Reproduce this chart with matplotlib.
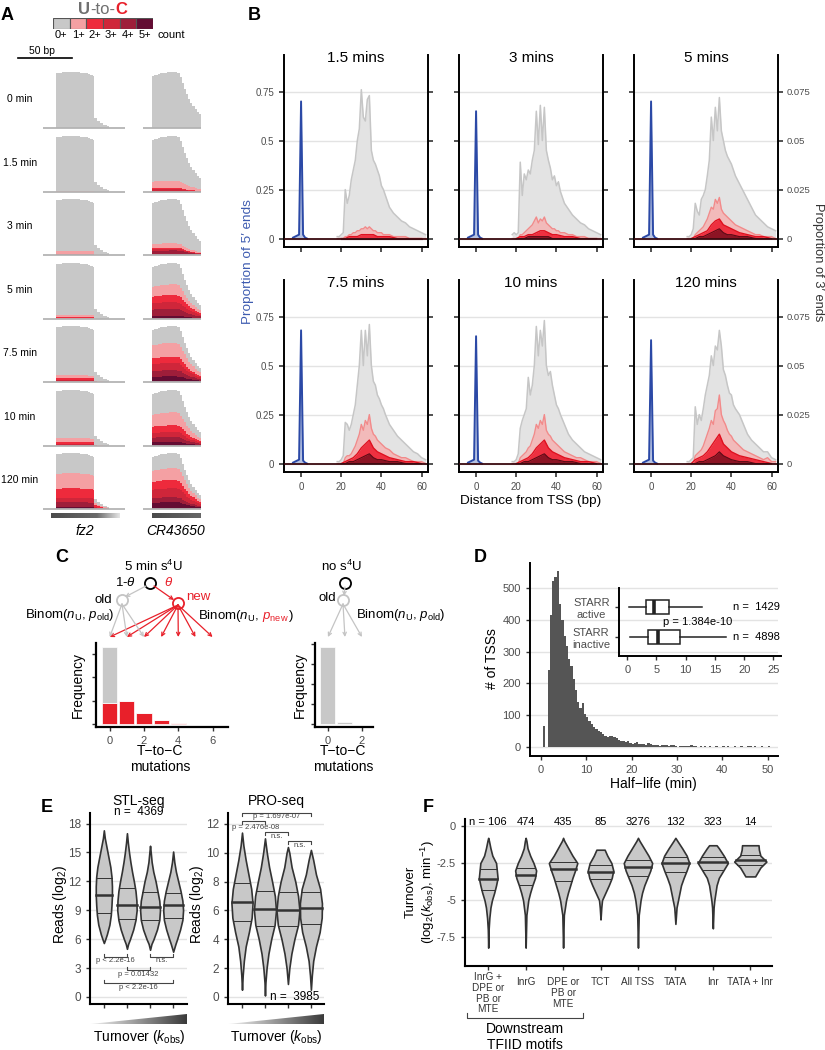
import numpy as np
import matplotlib
matplotlib.use('Agg')
import matplotlib.pyplot as plt
from matplotlib.colors import LinearSegmentedColormap
from matplotlib.patches import Polygon

plt.rcParams['font.family'] = ['Liberation Sans', 'DejaVu Sans']
plt.rcParams['mathtext.fontset'] = 'custom'
plt.rcParams['mathtext.rm'] = 'Liberation Sans'
plt.rcParams['mathtext.it'] = 'Liberation Sans:italic'
plt.rcParams['mathtext.bf'] = 'Liberation Sans:bold'

# ---------------- data ----------------
# A: U-to-C coverage tracks
uc_labels = ['0+', '1+', '2+', '3+', '4+', '5+']
uc_colors = ['#c8c8c8', '#f4a0a3', '#ee2a3c', '#cf263a', '#9e1e3a', '#640c33']
a_times = ['0 min', '1.5 min', '3 min', '5 min', '7.5 min', '10 min', '120 min']
fz2_pos = [12, 14, 16, 18, 20, 22, 24, 26, 28, 30, 32, 34, 36, 38, 40, 42, 44, 46, 47.5, 50, 53, 56, 59, 61]
fz2_cov = [0.97, 0.98, 0.98, 0.99, 1.0, 1.0, 1.0, 1.0, 1.0, 0.99, 0.99, 0.98, 0.98, 0.97, 0.97, 0.96,
           0.95, 0.92, 0.18, 0.12, 0.09, 0.06, 0.03, 0.0]
fz2_layers = [[0, 0, 0, 0, 0], [0.015, 0, 0, 0, 0], [0.07, 0.015, 0, 0, 0], [0.07, 0.035, 0, 0, 0],
              [0.12, 0.07, 0.03, 0, 0], [0.14, 0.07, 0.03, 0, 0], [0.64, 0.37, 0.2, 0.12, 0.04]]
cr_pos = [8, 10, 12, 14, 16, 18, 20, 22, 24, 26, 28, 30, 32, 34, 36, 38, 40, 42, 44, 46, 48, 50, 52, 54]
cr_cov = [0.93, 0.94, 0.95, 0.96, 0.97, 0.98, 0.98, 0.99, 1.0, 1.0, 1.0, 1.0, 0.97, 0.9, 0.8, 0.7,
          0.6, 0.52, 0.45, 0.4, 0.33, 0.28, 0.25, 0.22]
cr_layers = [[0, 0, 0, 0, 0], [0.2, 0.07, 0.05, 0, 0], [0.21, 0.13, 0.11, 0.08, 0],
             [0.62, 0.43, 0.3, 0.18, 0.06], [0.7, 0.45, 0.34, 0.21, 0.1],
             [0.6, 0.37, 0.25, 0.16, 0.07], [0.73, 0.52, 0.37, 0.21, 0.12]]

# B: 5' (blue) and 3' end profiles
b_titles = ['1.5 mins', '3 mins', '5 mins', '7.5 mins', '10 mins', '120 mins']
b5_x = [-4, -3, -2, -1, 0, 1, 2, 3]
b5_vals = [[.005, .01, .015, .02, .70, .02, .005, 0],
           [.005, .01, .015, .02, .65, .02, .005, 0],
           [.005, .01, .015, .02, .70, .02, .005, 0],
           [.005, .01, .015, .02, .68, .015, .005, 0],
           [.005, .01, .015, .02, .65, .015, .005, 0],
           [.005, .01, .015, .02, .63, .015, .005, 0]]
B_x = [18, 19, 20, 21, 22, 23, 24, 25, 26, 27, 28, 29, 30, 31, 32, 33, 34, 35, 36, 37, 38, 39, 40, 41, 42,
       44, 46, 48, 50, 52, 54, 56, 58, 60, 62]
g15 = [.001, .001, .002, .003, .025, .018, .022, .030, .035, .040, .050, .056, .076, .062, .060, .071, .073,
       .045, .040, .038, .035, .032, .027, .025, .022, .016, .013, .011, .009, .008, .006, .005, .004, .003, .002]
g3 = [.002, .003, .002, .003, .039, .022, .033, .030, .035, .033, .040, .045, .065, .048, .068, .050, .067,
      .045, .040, .036, .030, .032, .027, .029, .024, .018, .015, .012, .010, .008, .007, .005, .004, .003, .002]
g5 = [.001, .001, .002, .005, .018, .014, .012, .020, .022, .025, .032, .040, .062, .050, .067, .055, .072,
      .055, .050, .045, .042, .040, .038, .035, .032, .028, .024, .020, .016, .012, .010, .008, .006, .005, .004]
g75 = [.001, .001, .002, .004, .021, .020, .017, .020, .025, .030, .040, .050, .068, .050, .068, .055, .071,
       .050, .042, .040, .035, .033, .030, .028, .025, .020, .017, .014, .012, .010, .008, .006, .005, .003, .002]
g10 = [.001, .001, .002, .005, .018, .022, .025, .028, .044, .035, .040, .050, .070, .055, .068, .060, .073,
       .050, .045, .047, .040, .035, .030, .028, .025, .020, .015, .012, .010, .008, .006, .005, .004, .003, .002]
g120 = [.001, .001, .002, .003, .029, .020, .025, .022, .028, .035, .040, .045, .055, .050, .060, .058, .068,
        .060, .048, .045, .040, .036, .035, .030, .028, .025, .020, .015, .012, .010, .008, .006, .006, .003, .002]
p15 = [0, 0, 0, 0, .001, .001, .002, .002, .003, .003, .004, .004, .005, .005, .006, .005, .006,
       .005, .004, .004, .003, .003, .003, .002, .002, .002, .001, .001, .001, .001, 0, 0, 0, 0, 0]
p3 = [0, 0, 0, 0, .002, .002, .003, .004, .005, .006, .007, .009, .011, .008, .010, .009, .011,
      .008, .007, .006, .005, .005, .004, .004, .003, .003, .002, .002, .001, .001, .001, 0, 0, 0, 0]
p5 = [0, 0, 0, 0, .002, .003, .004, .005, .006, .008, .010, .013, .016, .015, .020, .018, .021,
      .015, .013, .012, .011, .010, .009, .008, .007, .006, .005, .004, .003, .002, .002, .001, .001, .001, 0]
p75 = [0, 0, 0, 0, .003, .004, .004, .005, .007, .009, .012, .015, .020, .017, .022, .020, .025,
       .018, .015, .014, .012, .011, .010, .009, .008, .007, .005, .004, .003, .003, .002, .001, .001, .001, 0]
p10 = [0, 0, 0, 0, .003, .004, .005, .006, .008, .009, .012, .015, .020, .018, .022, .020, .025,
       .017, .015, .014, .012, .011, .010, .009, .008, .006, .005, .004, .003, .003, .002, .001, .001, .001, 0]
p120 = [0, 0, 0, 0, .004, .005, .006, .007, .009, .012, .015, .018, .022, .020, .027, .028, .035,
        .025, .022, .020, .017, .015, .014, .012, .011, .009, .007, .006, .005, .004, .003, .002, .003, .001, .001]
L_x = [20, 22, 24, 26, 28, 30, 32, 34, 36, 38, 40, 44, 48, 52, 56, 60]
r15 = [0, 0, .001, .001, .001, .002, .002, .002, .002, .001, .001, .001, 0, 0, 0, 0]
r3 = [0, .001, .001, .002, .002, .003, .004, .004, .003, .002, .002, .001, .001, 0, 0, 0]
r5 = [0, .001, .002, .003, .004, .007, .009, .010, .007, .006, .005, .003, .002, .001, .001, 0]
r75 = [0, .001, .002, .003, .005, .008, .010, .012, .008, .006, .005, .003, .002, .001, .001, 0]
r10 = [0, .001, .002, .003, .005, .008, .010, .012, .008, .006, .005, .003, .002, .001, .001, 0]
r120 = [0, .002, .003, .004, .006, .009, .012, .015, .010, .008, .006, .004, .003, .002, .001, 0]
k15 = [0, 0, 0, 0, 0, 0, 0, 0, 0, 0, 0, 0, 0, 0, 0, 0]
k3 = [0, 0, 0, .001, .001, .001, .001, .001, .001, 0, 0, 0, 0, 0, 0, 0]
k5 = [0, 0, .001, .001, .002, .003, .004, .005, .003, .002, .002, .001, .001, 0, 0, 0]
k75 = [0, 0, .001, .001, .002, .003, .004, .005, .003, .002, .002, .001, .001, 0, 0, 0]
k10 = [0, 0, .001, .001, .002, .003, .004, .005, .003, .002, .002, .001, .001, 0, 0, 0]
k120 = [0, 0, .001, .001, .002, .003, .004, .006, .004, .003, .002, .001, .001, 0, 0, 0]
b_grey = [g15, g3, g5, g75, g10, g120]
b_pink = [p15, p3, p5, p75, p10, p120]
b_red = [r15, r3, r5, r75, r10, r120]
b_dark = [k15, k3, k5, k75, k10, k120]

# C: mutation count histograms
c_k = [0, 1, 2, 3, 4, 5, 6]
c_new = [0.9, 1.0, 0.47, 0.17, 0.05, 0.02, 0.01]
c_old = [2.4, 0, 0, 0, 0, 0, 0]
c2_k = [0, 1, 2]
c2_old = [3.85, 0.08, 0.0]

# D: half-life histogram (0.5 min bins) and STARR inset
d_bins = np.arange(0, 52, 0.5)
d_counts = [0, 65, 0, 242, 415, 522, 535, 553, 450, 400,
            350, 318, 278, 255, 215, 180, 140, 122, 138, 105,
            93, 82, 72, 63, 57, 50, 47, 40, 36, 33,
            36, 35, 31, 27, 22, 19, 18, 15, 18, 13,
            11, 12, 15, 10, 9, 9, 8, 12, 10, 7,
            6, 7, 4, 5, 6, 6, 3, 6, 5, 2,
            1, 3, 3, 2, 4, 3, 5, 2, 4, 1,
            2, 1, 2, 1, 2, 1, 1, 2, 1, 1,
            2, 1, 3, 1, 1, 2, 1, 1, 2, 1,
            1, 2, 2, 1, 3, 1, 1, 2, 1, 1,
            2, 1, 1, 1]
d_groups = ['STARR\nactive', 'STARR\ninactive']
d_whislo = [0.35, 0.4]
d_q1 = [3.2, 3.6]
d_med = [4.6, 5.3]
d_q3 = [7.1, 9.0]
d_whishi = [12.8, 16.9]
d_n = [1429, 4898]

# E: reads per turnover quartile (violin outlines: level, half-width)
stl_y = [[5.6, 6, 6.5, 7.5, 8.5, 9.5, 10.5, 11.5, 12.5, 13.5, 14.5, 15.5, 16.5, 17.3],
         [5.0, 5.5, 6, 7, 8, 9, 10, 11, 12, 13, 14, 15, 16, 17],
         [4.9, 5.5, 6, 7, 8, 9, 10, 11, 12, 13, 14, 15, 15.7],
         [4.7, 5.5, 6, 7, 8, 9, 10, 11, 12, 13, 14, 15.1]]
stl_w = [[0, .06, .13, .24, .30, .33, .35, .35, .33, .28, .20, .12, .04, 0],
         [0, .05, .13, .27, .37, .42, .41, .37, .30, .22, .15, .09, .04, 0],
         [0, .06, .15, .30, .40, .43, .40, .32, .24, .14, .07, .03, 0],
         [0, .10, .17, .30, .40, .43, .40, .32, .22, .12, .05, 0]]
stl_q = [[8.7, 10.6, 12.4], [8.1, 9.6, 11.3], [8.0, 9.3, 10.9], [8.2, 9.5, 10.8]]
pro_y = [[0.5, 1.5, 2.5, 3.5, 4.5, 5.5, 6.5, 7.5, 8.5, 9.5, 10.5, 11.4],
         [0.1, 1, 2, 3, 4, 5, 6, 7, 8, 9, 10, 11],
         [0.9, 2, 3, 4, 5, 6, 7, 8, 9, 10, 10.4],
         [0.5, 1.5, 2.5, 3.5, 4.5, 5.5, 6.5, 7.5, 8.5, 9.5, 10.2]]
pro_w = [[0, .03, .08, .16, .30, .42, .46, .40, .28, .16, .06, 0],
         [0, .02, .07, .15, .27, .42, .48, .43, .31, .18, .08, 0],
         [0, .06, .15, .28, .44, .50, .44, .32, .16, .06, 0],
         [0, .04, .10, .22, .38, .47, .48, .40, .22, .10, 0]]
pro_q = [[5.3, 6.6, 7.9], [4.9, 6.1, 7.35], [4.9, 6.05, 7.25], [5.05, 6.2, 7.3]]

# F: turnover by core promoter motif
f_cats = ['InrG +\nDPE or\nPB or\nMTE', 'InrG', 'DPE or\nPB or\nMTE', 'TCT', 'All TSS', 'TATA', 'Inr', 'TATA + Inr']
f_n = [106, 474, 435, 85, 3276, 132, 323, 14]
f_y = [[-8.2, -7, -6.2, -5.5, -5, -4.5, -4, -3.5, -3, -2.5, -2, -1.5, -1, -0.8],
       [-8.2, -6, -5, -4.5, -4, -3.5, -3, -2.5, -2, -1.5, -1, -0.8],
       [-8.2, -6, -5, -4.5, -4, -3.5, -3, -2.5, -2, -1.5, -1, -0.8],
       [-6.3, -5.5, -5, -4.5, -4, -3.5, -3, -2.5, -2, -1.6, -1.6],
       [-8.2, -6, -5, -4.5, -4, -3.5, -3, -2.5, -2, -1.5, -1, -0.8],
       [-6.6, -5.5, -5, -4.5, -4, -3.5, -3, -2.5, -2, -1.5, -1, -0.8],
       [-6.9, -5.5, -5, -4.5, -4, -3.5, -3, -2.5, -2, -1.5, -1.3, -1.3],
       [-3.4, -3.4, -3.1, -2.8, -2.4, -2.0, -1.6, -1.3, -1.3]]
f_w = [[0, .01, .03, .06, .10, .16, .21, .25, .23, .21, .11, .06, .02, 0],
       [0, .02, .07, .12, .18, .25, .28, .21, .12, .05, .02, 0],
       [0, .02, .08, .13, .19, .25, .32, .38, .25, .14, .03, 0],
       [0, .02, .04, .13, .22, .30, .34, .29, .18, .11, 0],
       [0, .02, .07, .11, .17, .25, .33, .38, .28, .16, .04, 0],
       [0, .03, .07, .11, .15, .22, .30, .37, .30, .18, .05, 0],
       [0, .02, .04, .07, .10, .16, .28, .40, .29, .16, .10, 0],
       [0, .13, .20, .27, .43, .27, .23, .22, 0]]
f_q = [[-4.3, -3.6, -2.9], [-4.0, -3.3, -2.8], [-3.7, -2.9, -2.4], [-3.6, -3.1, -2.6],
       [-3.35, -2.75, -2.3], [-3.1, -2.5, -2.1], [-3.0, -2.45, -2.1], [-2.6, -2.3, -1.95]]

# ---------------- layout helpers ----------------
W, H = 825, 1050
fig = plt.figure(figsize=(8.25, 10.5), dpi=100)
TICK = '#4d4d4d'


def box(x0, y0, x1, y1):
    return fig.add_axes([x0 / W, 1 - y1 / H, (x1 - x0) / W, (y1 - y0) / H])


ov = fig.add_axes([0, 0, 1, 1])
ov.set_xlim(0, W)
ov.set_ylim(H, 0)
ov.axis('off')
ov.set_zorder(10)


def txt(x, y, s, **kw):
    kw.setdefault('ha', 'center')
    kw.setdefault('va', 'center')
    return ov.text(x, y, s, **kw)


def chain(x, y, parts, fs):
    r = fig.canvas.get_renderer()
    for s, c, w, gap in parts:
        t = ov.text(x + gap, y, s, color=c, fontweight=w, fontsize=fs, ha='left', va='baseline')
        bb = t.get_window_extent(r)
        x = ov.transData.inverted().transform((bb.x1, bb.y1))[0]


def to_px(ax, x, y):
    dx, dy = ax.transData.transform((x, y))
    return ov.transData.inverted().transform((dx, dy))


def tidy(ax, lw=1.3, fs=7.5):
    ax.spines['top'].set_visible(False)
    ax.spines['right'].set_visible(False)
    for s in ('left', 'bottom'):
        ax.spines[s].set_linewidth(lw)
    ax.tick_params(labelsize=fs, labelcolor=TICK, color='#333333', length=3, width=1)


def ygrid(ax):
    ax.grid(axis='y', color='#e3e3e3', lw=1)
    ax.set_axisbelow(True)


def violin(ax, x, ys, ws, q):
    ys = np.array(ys)
    ws = np.array(ws)
    ax.fill_betweenx(ys, x - ws, x + ws, facecolor='#c8c8c8', edgecolor='#333333', lw=1.2, zorder=3)
    for v, lw in zip(q, (0.7, 1.8, 0.7)):
        w = np.interp(v, ys, ws)
        ax.plot([x - w, x + w], [v, v], color='#333333', lw=lw, zorder=4)


wcm = LinearSegmentedColormap.from_list('wedge', ['#f2f2f2', '#3a3a3a'])


def wedge(x0, x1, y0, y1):
    a = box(x0, y0, x1, y1)
    im = a.imshow(np.linspace(0, 1, 256)[None, :], cmap=wcm, aspect='auto', extent=[0, 1, 0, 1])
    im.set_clip_path(Polygon([[0, 0], [1, 0], [1, 1]], closed=True, transform=a.transData))
    a.set_xlim(0, 1)
    a.set_ylim(0, 1)
    a.axis('off')


for lab, x, y in [('A', 7, 15), ('B', 254, 15), ('C', 62, 558), ('D', 480, 558), ('E', 47, 807), ('F', 428, 807)]:
    txt(x, y, lab, fontsize=13, fontweight='bold')

# ---------------- A ----------------
chain(78, 14, [('U', '#707070', 'bold', 0), ('-to-', '#707070', 'normal', 0), ('C', '#e8202a', 'bold', 0)], 12)
lg = box(53, 18, 153, 29)
lg.bar(range(6), [1] * 6, width=1, color=uc_colors, edgecolor='#555555', lw=0.8)
lg.set_xlim(-0.5, 5.5)
lg.set_ylim(0, 1)
lg.axis('off')
for i, l in enumerate(uc_labels):
    lg.text(i, -0.5, l, ha='center', va='center', fontsize=8, clip_on=False)
lg.text(5.75, -0.5, 'count', ha='left', va='center', fontsize=8, clip_on=False)

a_base = [128, 192, 255, 319, 382, 446, 509]
first = None
for i, t in enumerate(a_times):
    b = a_base[i]
    txt(20, b - 29, t, fontsize=7.5)
    for x0, x1, pos, cov, layers, xmax in [(43, 125, fz2_pos, fz2_cov, fz2_layers, 76),
                                           (143, 201, cr_pos, cr_cov, cr_layers, 54)]:
        ax = box(x0, b - 59, x1, b + 1)
        cov = np.array(cov)
        ax.fill_between(pos, cov, step='post', color=uc_colors[0], lw=0)
        for j, f in enumerate(layers[i]):
            if f > 0:
                ax.fill_between(pos, cov * f, step='post', color=uc_colors[j + 1], lw=0)
        ax.axhline(0, color='#b4b4b4', lw=1.3)
        ax.set_xlim(0, xmax)
        ax.set_ylim(-0.018, 1.05)
        ax.axis('off')
        if first is None:
            first = ax

sx0, _ = to_px(first, 0, 0)
sx1, _ = to_px(first, 50, 0)
ov.plot([18, 18 + sx1 - sx0], [58, 58], color='black', lw=1.2)
txt(18 + (sx1 - sx0) / 2 - 3, 51, '50 bp', fontsize=7.5)

gcm = LinearSegmentedColormap.from_list('gene', ['#4a4a4a', '#5a5a5a', '#6a6a6a', '#e6e6e6'])
for x0, x1, hi in [(51, 120, 1.0), (152, 201, 0.6)]:
    a = box(x0, 513, x1, 518)
    a.imshow(np.linspace(0, hi, 256)[None, :], cmap=gcm, vmin=0, vmax=1, aspect='auto', extent=[0, 1, 0, 1])
    a.axis('off')
txt(85, 531, 'fz2', fontsize=10, style='italic')
txt(176, 531, 'CR43650', fontsize=10, style='italic')

# ---------------- B ----------------
b_cols = [(284, 428), (459, 603), (634, 778)]
b_rows = [(55, 247), (280, 472)]
for i in range(6):
    r, c = divmod(i, 3)
    ax = box(b_cols[c][0], b_rows[r][0], b_cols[c][1], b_rows[r][1])
    ax.set_xlim(-8.5, 63.2)
    ax.set_ylim(-0.043, 0.937)
    ax.set_yticks([0, 0.25, 0.5, 0.75])
    ax.set_yticklabels(['0', '0.25', '0.5', '0.75'])
    ax.set_xticks([0, 20, 40, 60])
    ygrid(ax)
    ax.fill_between(b5_x, b5_vals[i], color='#3050aa', alpha=0.35, lw=0)
    ax.plot(b5_x, b5_vals[i], color='#2b49a6', lw=1.4)
    ax.spines['top'].set_visible(False)
    ax.spines['right'].set_visible(False)
    for s in ('left', 'bottom'):
        ax.spines[s].set_linewidth(1.4)
    ax.tick_params(labelsize=7, labelcolor=TICK, color='#222222', length=3.5, width=1.1,
                   labelleft=(c == 0), labelbottom=(r == 1))
    ax.text(0.5, 0.985, b_titles[i], transform=ax.transAxes, ha='center', va='center', fontsize=11)

    ax2 = ax.twinx()
    ax2.set_ylim(-0.0043, 0.0937)
    ax2.set_yticks([0, 0.025, 0.05, 0.075])
    ax2.set_yticklabels(['0', '0.025', '0.05', '0.075'])
    ax2.fill_between(B_x, b_grey[i], color='#e3e3e3', lw=0)
    ax2.plot(B_x, b_grey[i], color='#c6c6c6', lw=1.1)
    ax2.fill_between(B_x, b_pink[i], color='#f7b0b0', alpha=0.8, lw=0)
    ax2.plot(B_x, b_pink[i], color='#f28a8a', lw=1.0)
    ax2.fill_between(L_x, b_red[i], color='#ee3040', lw=0)
    ax2.plot(L_x, b_red[i], color='#e0101f', lw=1.0)
    ax2.fill_between(L_x, b_dark[i], color='#8c1424', lw=0)
    ax2.plot(L_x, b_dark[i], color='#5a0a15', lw=0.8)
    ax2.axhline(0, color='#3a0a10', lw=1.3)
    for s in ('top', 'left', 'bottom'):
        ax2.spines[s].set_visible(False)
    ax2.spines['right'].set_linewidth(1.4)
    ax2.tick_params(labelsize=6.8, labelcolor=TICK, color='#222222', length=3.5, width=1.1,
                    pad=2.5, labelright=(c == 2))

txt(248, 262, 'Proportion of 5\u2032 ends', rotation=90, fontsize=9.7, color='#3d5bb0')
txt(818, 262, 'Proportion of 3\u2032 ends', rotation=270, fontsize=9.3, color='#333333')
txt(531, 501, 'Distance from TSS (bp)', fontsize=9.7)

# ---------------- C ----------------
c1 = box(96, 643, 228, 727)
c1.bar(c_k, c_new, 0.88, color='#e8202a', edgecolor='white', lw=0.5)
c1.bar(c_k, c_old, 0.88, bottom=c_new, color='#c8c8c8', edgecolor='white', lw=0.5)
c1.set_xlim(-0.8, 6.9)
c1.set_ylim(-0.13, 3.48)
c1.set_yticks([0, 1, 2, 3])
c1.set_yticklabels([])
c1.set_xticks([0, 2, 4, 6])
tidy(c1, lw=1.6, fs=8)

c2 = box(315, 643, 373, 727)
c2.bar(c2_k, c2_old, 0.88, color='#c8c8c8', edgecolor='white', lw=0.5)
c2.set_xlim(-0.76, 2.65)
c2.set_ylim(-0.15, 4.05)
c2.set_yticks([0, 1, 2, 3, 4])
c2.set_yticklabels([])
c2.set_xticks([0, 2])
tidy(c2, lw=1.6, fs=8)

for xc in (78, 300):
    txt(xc, 685, 'Frequency', rotation=90, fontsize=10)
txt(160, 759, 'T\u2212to\u2212C\nmutations', fontsize=10, linespacing=1.1)
txt(343, 759, 'T\u2212to\u2212C\nmutations', fontsize=10, linespacing=1.1)

GREY, RED = '#c4c4c4', '#e8202a'
arr = dict(arrowstyle='->', lw=0.9, shrinkA=0, shrinkB=0, mutation_scale=6)
# left diagram
txt(153, 566, '5 min s$^4$U', fontsize=9.5)
txt(125, 583, '1-$\\theta$', fontsize=9.5)
txt(169, 582, '$\\theta$', fontsize=9.5, color=RED)
txt(103, 600, 'old', fontsize=9.5)
txt(198, 597, 'new', fontsize=9.5, color=RED)
txt(70, 615, 'Binom($n_\\mathrm{U}$, $p_\\mathrm{old}$)', fontsize=9.5)
chain(198, 619, [('Binom($n_\\mathrm{U}$,', 'black', 'normal', 0), ('$p_\\mathrm{new}$', RED, 'normal', 3),
                 (')', 'black', 'normal', 0)], 9.5)
ov.annotate('', xy=(125, 597), xytext=(146, 586), arrowprops=dict(arr, color=GREY))
ov.annotate('', xy=(174, 600), xytext=(154, 586), arrowprops=dict(arr, color=RED))
for k in c_k:
    tx, _ = to_px(c1, k, 0)
    ov.annotate('', xy=(tx, 637), xytext=(178, 605), arrowprops=dict(arr, color=RED))
for k in c_k[:3]:
    tx, _ = to_px(c1, k, 0)
    ov.annotate('', xy=(tx, 637), xytext=(122, 604), arrowprops=dict(arr, color=GREY))
ov.plot([150], [583], 'o', ms=8, mfc='white', mec='black', mew=1.3)
ov.plot([122], [600], 'o', ms=8, mfc='white', mec=GREY, mew=1.3)
ov.plot([178], [603], 'o', ms=8, mfc='white', mec=RED, mew=1.3)
# right diagram
txt(342, 566, 'no s$^4$U', fontsize=9.5)
txt(327, 598, 'old', fontsize=9.5)
txt(401, 615, 'Binom($n_\\mathrm{U}$, $p_\\mathrm{old}$)', fontsize=9.5)
ov.annotate('', xy=(344, 596), xytext=(345, 587), arrowprops=dict(arr, color=GREY))
for k in c2_k:
    tx, _ = to_px(c2, k, 0)
    ov.annotate('', xy=(tx, 637), xytext=(343, 604), arrowprops=dict(arr, color=GREY))
ov.plot([345], [583], 'o', ms=8, mfc='white', mec='black', mew=1.3)
ov.plot([343], [600], 'o', ms=8, mfc='white', mec=GREY, mew=1.3)

# ---------------- D ----------------
axD = box(530, 563, 778, 756)
axD.bar(d_bins, d_counts, width=0.5, align='edge', color='#555555', lw=0)
axD.set_xlim(-2.4, 52.3)
axD.set_ylim(-28, 578)
axD.set_yticks([0, 100, 200, 300, 400, 500])
axD.set_xticks([0, 10, 20, 30, 40, 50])
ygrid(axD)
tidy(axD, lw=1.4, fs=8)
txt(653, 784, 'Half\u2212life (min)', fontsize=10)
txt(492, 659, '# of TSSs', rotation=90, fontsize=10)

axI = box(619, 588, 781, 656)
axI.patch.set_alpha(0)
stats = [dict(whislo=d_whislo[i], q1=d_q1[i], med=d_med[i], q3=d_q3[i], whishi=d_whishi[i], fliers=[])
         for i in range(2)]
axI.bxp(stats, positions=[2, 1], widths=0.47, orientation='horizontal', showfliers=False, showcaps=False,
        patch_artist=True, boxprops=dict(lw=1.1, edgecolor='#222222', facecolor='white'),
        whiskerprops=dict(lw=1.1, color='#222222'), medianprops=dict(lw=2.6, color='#222222'))
axI.set_xlim(-1.4, 26.3)
axI.set_ylim(0.37, 2.63)
axI.set_yticks([2, 1])
axI.set_yticklabels(d_groups)
axI.set_xticks([0, 5, 10, 15, 20, 25])
axI.set_xticklabels(['0', '5', '10', '15', '20', '25'])
tidy(axI, lw=1.4, fs=8)
for lbl in axI.get_yticklabels():
    lbl.set_multialignment('center')
for yv, n in zip([2, 1], d_n):
    axI.text(26.1, yv, 'n =  %d' % n, ha='right', va='center', fontsize=8)
axI.text(12.0, 1.5, 'p = 1.384e-10', ha='center', va='center', fontsize=8)

# ---------------- E ----------------
def bracket(ax, x1, x2, y, tick, label, ly, lx=None, ha='center'):
    ax.plot([x1, x1, x2, x2], [y + tick, y, y, y + tick], color='#444444', lw=0.8, clip_on=False)
    ax.text((x1 + x2) / 2 if lx is None else lx, ly, label, ha=ha, va='center', fontsize=5.5,
            color='#444444', clip_on=False)


axS = box(90, 813, 187, 1004)
for j in range(4):
    violin(axS, j + 1, stl_y[j], stl_w[j], stl_q[j])
axS.set_xlim(0.4, 4.6)
axS.set_ylim(-0.73, 19.1)
axS.set_yticks([0, 3, 6, 9, 12, 15, 18])
axS.set_xticks([1, 2, 3, 4])
axS.set_xticklabels([])
ygrid(axS)
tidy(axS, lw=1.5, fs=8.5)
bracket(axS, 1, 2, 4.13, 0.35, 'p < 2.2e-16', 3.75)
bracket(axS, 3, 4, 4.13, 0.35, 'n.s.', 3.75)
bracket(axS, 2, 3, 2.81, 0.35, 'p = 0.01432', 2.36)
bracket(axS, 1, 4, 1.42, 0.35, 'p < 2.2e-16', 0.97)

axP = box(228, 813, 324, 1004)
for j in range(4):
    violin(axP, j + 1, pro_y[j], pro_w[j], pro_q[j])
axP.set_xlim(0.39, 4.57)
axP.set_ylim(-0.49, 12.76)
axP.set_yticks([0, 2, 4, 6, 8, 10, 12])
axP.set_xticks([1, 2, 3, 4])
axP.set_xticklabels([])
ygrid(axP)
tidy(axP, lw=1.5, fs=8.5)
bracket(axP, 1, 4, 12.78, -0.2, 'p = 1.697e-07', 12.5)
bracket(axP, 1, 2, 12.2, -0.2, 'p = 2.476e-08', 11.75, lx=0.55, ha='left')
bracket(axP, 2, 3, 11.41, -0.2, 'n.s.', 11.13)
bracket(axP, 3, 4, 10.8, -0.2, 'n.s.', 10.5)
axP.text(3.3, 0, 'n =  3985', ha='center', va='center', fontsize=8.5)

txt(139, 801, 'STL-seq', fontsize=10)
txt(139, 812, 'n =  4369', fontsize=8.5)
txt(276, 801, 'PRO-seq', fontsize=10)
for xc in (60, 197):
    txt(xc, 905, 'Reads (log$_2$)', rotation=90, fontsize=10)
wedge(90, 187, 1014, 1024)
wedge(228, 324, 1014, 1024)
txt(139, 1037, 'Turnover ($k_{\\mathrm{obs}}$)', fontsize=10)
txt(276, 1037, 'Turnover ($k_{\\mathrm{obs}}$)', fontsize=10)

# ---------------- F ----------------
axF = box(465, 819, 772, 966)
for j in range(8):
    violin(axF, j + 1, f_y[j], f_w[j], f_q[j])
axF.set_xlim(0.38, 8.58)
axF.set_ylim(-9.44, 0.47)
axF.set_yticks([0, -2.5, -5, -7.5])
axF.set_yticklabels(['0', '-2.5', '-5', '-7.5'])
axF.set_xticks(range(1, 9))
axF.set_xticklabels([])
ygrid(axF)
tidy(axF, lw=1.5, fs=8)
for j, (cat, n) in enumerate(zip(f_cats, f_n)):
    axF.text(j + 1, 0.27, ('n = %d' % n) if j == 0 else str(n), ha='center', va='center', fontsize=8)
    top = 972 if cat.count('\n') == 3 else 977
    px, _ = to_px(axF, j + 1, 0)
    txt(px, top, cat, va='top', fontsize=7.2, linespacing=1.1, color='#333333')
ov.plot([467, 467, 583, 583], [1013, 1018, 1018, 1013], color='#444444', lw=0.8)
txt(525, 1037, 'Downstream\nTFIID motifs', fontsize=10, linespacing=1.15)
txt(421, 892, 'Turnover\n(log$_2$($k_{\\mathrm{obs}}$), min$^{-1}$)', rotation=90, fontsize=9.5, linespacing=1.1)

fig.savefig('out.png', dpi=100)
